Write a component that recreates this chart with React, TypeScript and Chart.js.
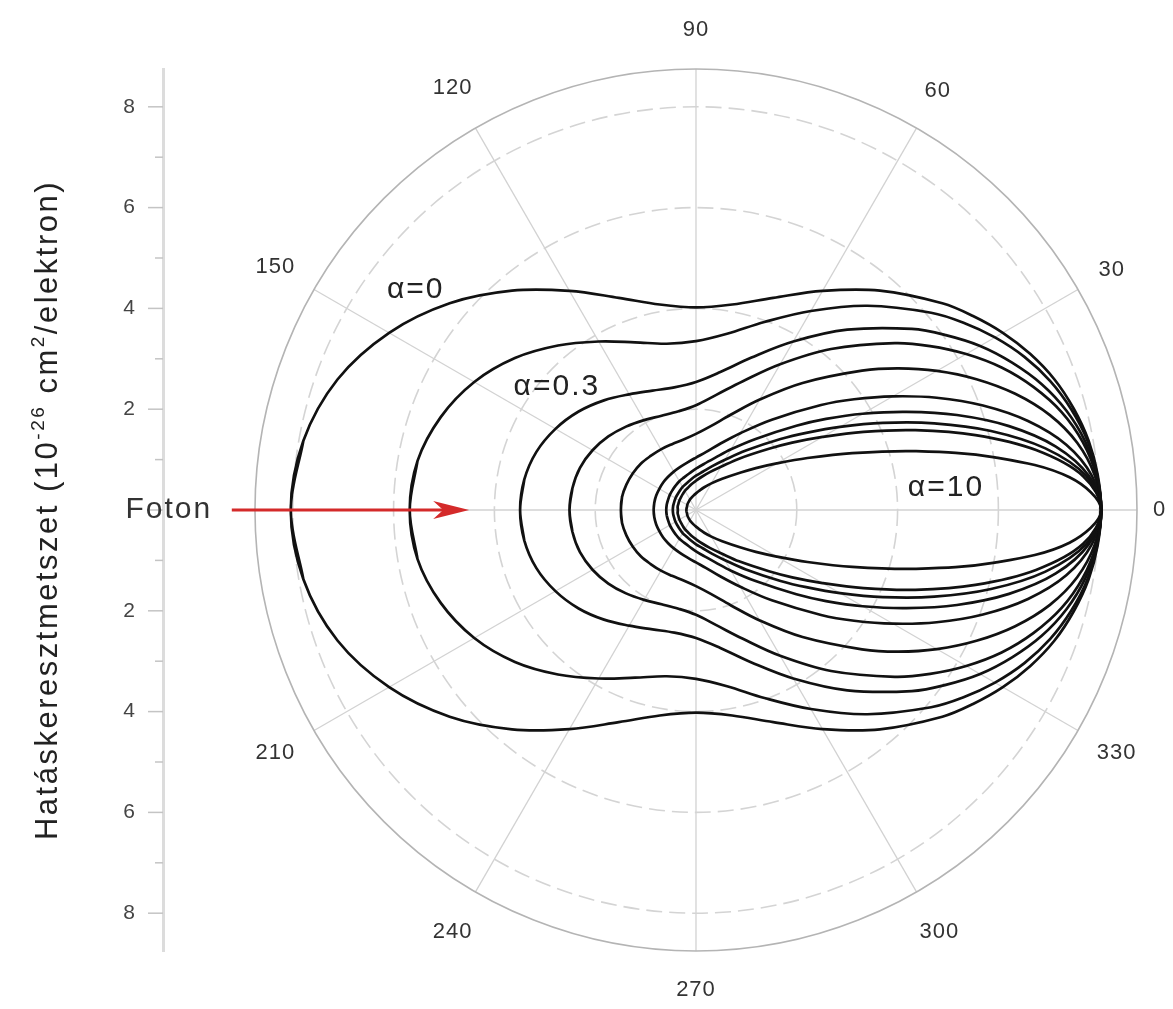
import React, { useEffect, useRef } from 'react';
import { Chart, registerables } from 'chart.js';

Chart.register(...registerables);

// Scattering angle (degrees) at which the cross-section radius is read (upper half; the plot is mirror-symmetric)
const ANGLES_DEG = [0, 5, 10, 15, 20, 25, 30, 35, 40, 50, 60, 70, 80, 90, 100, 110, 120, 130, 140, 150, 160, 170, 180];

// Curve labels (photon energy parameter alpha)
const ALPHA_LABELS = ['0', '0.1', '0.3', '0.5', '1', '2', '3', '4', '5', '10'];

// Differential cross-section (10^-26 cm^2 / elektron) read along each angle
const R_ALPHA_0 = [8.04, 8.00, 7.91, 7.76, 7.57, 7.32, 7.03, 6.71, 6.38, 5.68, 5.02, 4.48, 4.14, 4.02, 4.14, 4.48, 5.02, 5.68, 6.38, 7.03, 7.57, 7.91, 8.04];
const R_ALPHA_01 = [8.04, 7.99, 7.89, 7.71, 7.48, 7.19, 6.85, 6.48, 6.09, 5.29, 4.56, 3.97, 3.55, 3.35, 3.35, 3.54, 3.86, 4.26, 4.69, 5.08, 5.39, 5.61, 5.68];
const R_ALPHA_03 = [8.04, 7.98, 7.84, 7.61, 7.30, 6.92, 6.51, 6.05, 5.59, 4.67, 3.86, 3.22, 2.78, 2.54, 2.47, 2.52, 2.65, 2.84, 3.04, 3.22, 3.37, 3.46, 3.49];
const R_ALPHA_05 = [8.04, 7.97, 7.79, 7.51, 7.13, 6.69, 6.19, 5.67, 5.15, 4.17, 3.34, 2.72, 2.32, 2.08, 1.99, 1.99, 2.06, 2.16, 2.27, 2.37, 2.45, 2.49, 2.51];
const R_ALPHA_1 = [8.04, 7.94, 7.68, 7.27, 6.74, 6.14, 5.52, 4.90, 4.30, 3.29, 2.53, 2.01, 1.69, 1.51, 1.42, 1.39, 1.39, 1.40, 1.43, 1.45, 1.47, 1.49, 1.49];
const R_ALPHA_2 = [8.04, 7.88, 7.46, 6.82, 6.06, 5.27, 4.51, 3.83, 3.24, 2.34, 1.76, 1.40, 1.17, 1.04, 0.96, 0.91, 0.88, 0.86, 0.85, 0.84, 0.84, 0.84, 0.84];
const R_ALPHA_3 = [8.04, 7.82, 7.25, 6.43, 5.51, 4.61, 3.82, 3.15, 2.60, 1.84, 1.39, 1.10, 0.93, 0.82, 0.74, 0.69, 0.66, 0.63, 0.61, 0.60, 0.59, 0.59, 0.59];
const R_ALPHA_4 = [8.04, 7.77, 7.04, 6.06, 5.03, 4.09, 3.30, 2.67, 2.19, 1.54, 1.15, 0.92, 0.77, 0.68, 0.61, 0.56, 0.53, 0.50, 0.48, 0.47, 0.46, 0.46, 0.46];
const R_ALPHA_5 = [8.04, 7.71, 6.85, 5.74, 4.63, 3.67, 2.90, 2.33, 1.89, 1.33, 0.99, 0.80, 0.67, 0.58, 0.52, 0.47, 0.44, 0.41, 0.39, 0.38, 0.37, 0.37, 0.36];
const R_ALPHA_10 = [8.04, 7.44, 6.02, 4.51, 3.30, 2.44, 1.85, 1.45, 1.16, 0.81, 0.61, 0.48, 0.39, 0.33, 0.29, 0.26, 0.24, 0.22, 0.21, 0.20, 0.19, 0.19, 0.19];

const SERIES = [R_ALPHA_0, R_ALPHA_01, R_ALPHA_03, R_ALPHA_05, R_ALPHA_1, R_ALPHA_2, R_ALPHA_3, R_ALPHA_4, R_ALPHA_5, R_ALPHA_10];

// Axis / grid values
const Y_TICKS = [-8, -7, -6, -5, -4, -3, -2, -1, 0, 1, 2, 3, 4, 5, 6, 7, 8];
const RINGS = [2, 4, 6, 8];
const R_MAX = 8.75;
const SPOKES = [0, 30, 60, 90, 120, 150, 180, 210, 240, 270, 300, 330];
const SPOKE_LABELS = [0, 30, 60, 90, 120, 150, 210, 240, 270, 300, 330];

// Y-axis title pieces (normal / superscript)
const Y_TITLE_PARTS = [
  { t: 'Hatáskeresztmetszet (10', sup: false },
  { t: '-26', sup: true },
  { t: ' cm', sup: false },
  { t: '2', sup: true },
  { t: '/elektron)', sup: false },
];

// Annotations (data units)
const CURVE_NOTES = [
  { text: 'α=0', x: -5.56, y: 4.37 },
  { text: 'α=0.3', x: -2.76, y: 2.44 },
  { text: 'α=10', x: 4.96, y: 0.44 },
];
const PHOTON_TEXT = { text: 'Foton', x: -10.46, y: 0 };
const ARROW = { x1: -9.21, x2: -4.5, y: 0 };

const FONT = '"Liberation Sans", Arial, Helvetica, sans-serif';

function polar(r: number, deg: number) {
  const t = (deg * Math.PI) / 180;
  return { x: r * Math.cos(t), y: r * Math.sin(t) };
}

// Closed loop: 180 (upper) -> 0 -> 180 (lower), with one overlapping step at each end so the join is smooth
function toPoints(r: number[]) {
  const n = ANGLES_DEG.length;
  const pts: { x: number; y: number }[] = [];
  pts.push(polar(r[n - 2], -ANGLES_DEG[n - 2]));
  for (let i = n - 1; i >= 0; i--) pts.push(polar(r[i], ANGLES_DEG[i]));
  for (let i = 1; i < n; i++) pts.push(polar(r[i], -ANGLES_DEG[i]));
  pts.push(polar(r[n - 2], ANGLES_DEG[n - 2]));
  return pts;
}

const polarPlugin = {
  id: 'polarPlugin',
  beforeDatasetsDraw(chart: any) {
    const { ctx, scales, chartArea } = chart;
    const xs = scales.x;
    const ys = scales.y;
    const cx = xs.getPixelForValue(0);
    const cy = ys.getPixelForValue(0);
    const rp = (v: number) => xs.getPixelForValue(v) - cx;
    const R = rp(R_MAX);
    ctx.save();
    // spokes
    ctx.strokeStyle = '#d2d2d2';
    ctx.lineWidth = 1.3;
    SPOKES.forEach((a) => {
      const t = (a * Math.PI) / 180;
      ctx.beginPath();
      ctx.moveTo(cx, cy);
      ctx.lineTo(cx + R * Math.cos(t), cy - R * Math.sin(t));
      ctx.stroke();
    });
    // dashed rings
    ctx.setLineDash([16, 7]);
    ctx.strokeStyle = '#d4d4d4';
    ctx.lineWidth = 1.6;
    RINGS.forEach((r) => {
      ctx.beginPath();
      ctx.arc(cx, cy, rp(r), 0, Math.PI * 2);
      ctx.stroke();
    });
    ctx.setLineDash([]);
    // outer ring
    ctx.strokeStyle = '#b4b4b4';
    ctx.lineWidth = 1.6;
    ctx.beginPath();
    ctx.arc(cx, cy, R, 0, Math.PI * 2);
    ctx.stroke();
    // y-axis tick marks (major / minor)
    ctx.strokeStyle = '#c4c4c4';
    ctx.lineWidth = 1.5;
    const ax = chartArea.left;
    Y_TICKS.forEach((v) => {
      const py = ys.getPixelForValue(v);
      const len = v % 2 === 0 ? 15 : 8;
      ctx.beginPath();
      ctx.moveTo(ax - len, py);
      ctx.lineTo(ax, py);
      ctx.stroke();
    });
    ctx.restore();
  },
  afterDraw(chart: any) {
    const { ctx, scales } = chart;
    const xs = scales.x;
    const ys = scales.y;
    const cx = xs.getPixelForValue(0);
    const cy = ys.getPixelForValue(0);
    const R = xs.getPixelForValue(R_MAX) - cx;
    ctx.save();
    // angle labels
    ctx.font = `22px ${FONT}`;
    (ctx as any).letterSpacing = '1px';
    ctx.fillStyle = '#333';
    ctx.textAlign = 'center';
    ctx.textBaseline = 'middle';
    SPOKE_LABELS.forEach((a) => {
      const t = (a * Math.PI) / 180;
      const txt = String(a);
      const w = ctx.measureText(txt).width;
      const d = R + 16 + (w / 2) * Math.abs(Math.cos(t)) + 23 * Math.abs(Math.sin(t));
      ctx.fillText(txt, cx + d * Math.cos(t), cy - d * Math.sin(t));
    });
    // arrow
    const ax1 = xs.getPixelForValue(ARROW.x1);
    const ax2 = xs.getPixelForValue(ARROW.x2);
    const ay = ys.getPixelForValue(ARROW.y);
    ctx.strokeStyle = '#d42a2a';
    ctx.fillStyle = '#d42a2a';
    ctx.lineWidth = 3;
    ctx.beginPath();
    ctx.moveTo(ax1, ay);
    ctx.lineTo(ax2 - 20, ay);
    ctx.stroke();
    ctx.beginPath();
    ctx.moveTo(ax2, ay);
    ctx.lineTo(ax2 - 36, ay - 9);
    ctx.lineTo(ax2 - 26, ay);
    ctx.lineTo(ax2 - 36, ay + 9);
    ctx.closePath();
    ctx.fill();
    // Foton text
    ctx.fillStyle = '#333';
    ctx.font = `30px ${FONT}`;
    (ctx as any).letterSpacing = '2px';
    ctx.fillText(PHOTON_TEXT.text, xs.getPixelForValue(PHOTON_TEXT.x), ys.getPixelForValue(PHOTON_TEXT.y));
    // curve notes
    ctx.fillStyle = '#222';
    CURVE_NOTES.forEach((n) => {
      ctx.fillText(n.text, xs.getPixelForValue(n.x), ys.getPixelForValue(n.y));
    });
    // y-axis title (rotated, with superscripts)
    const mainFont = `31px ${FONT}`;
    const supFont = `19px ${FONT}`;
    (ctx as any).letterSpacing = '2.5px';
    let total = 0;
    const widths = Y_TITLE_PARTS.map((p) => {
      ctx.font = p.sup ? supFont : mainFont;
      const w = ctx.measureText(p.t).width;
      total += w;
      return w;
    });
    ctx.translate(46, cy);
    ctx.rotate(-Math.PI / 2);
    ctx.textAlign = 'left';
    ctx.textBaseline = 'alphabetic';
    ctx.fillStyle = '#222';
    let pos = -total / 2;
    Y_TITLE_PARTS.forEach((p, i) => {
      ctx.font = p.sup ? supFont : mainFont;
      ctx.fillText(p.t, pos, p.sup ? -2 : 11);
      pos += widths[i];
    });
    ctx.restore();
  },
};

export default function App() {
  const ref = useRef<HTMLCanvasElement | null>(null);
  useEffect(() => {
    if (!ref.current) return;
    const datasets = SERIES.map((r, i) => ({
      label: 'α=' + ALPHA_LABELS[i],
      data: toPoints(r),
      showLine: true,
      borderColor: '#111',
      borderWidth: 2.7,
      pointRadius: 0,
      tension: 0.35,
      fill: false,
    }));
    const chart = new Chart(ref.current, {
      type: 'scatter',
      data: { datasets },
      plugins: [polarPlugin],
      options: {
        animation: false,
        responsive: false,
        maintainAspectRatio: false,
        layout: { padding: { left: 0, top: 69, right: 36, bottom: 58 } },
        plugins: { legend: { display: false }, tooltip: { enabled: false } },
        scales: {
          x: { type: 'linear', min: -10.575, max: R_MAX, display: false },
          y: {
            type: 'linear',
            position: 'left',
            min: -R_MAX,
            max: R_MAX,
            afterBuildTicks: (axis: any) => {
              axis.ticks = Y_TICKS.map((v) => ({ value: v }));
            },
            afterFit: (axis: any) => {
              axis.width = 163;
            },
            ticks: {
              autoSkip: false,
              padding: 12,
              color: '#444',
              font: { size: 21, family: FONT },
              callback: (v: any) => (Number(v) % 2 === 0 && Number(v) !== 0 ? String(Math.abs(Number(v))) : ''),
            },
            grid: { drawOnChartArea: false, drawTicks: true, tickLength: 16, tickColor: 'rgba(0,0,0,0)' },
            border: { display: true, color: '#dcdcdc', width: 3 },
            title: { display: false },
          },
        },
      },
    });
    return () => chart.destroy();
  }, []);
  return (
    <div style={{ position: 'fixed', left: 0, top: 0, width: 1173, height: 1009, background: '#fff' }}>
      <canvas ref={ref} width={1173} height={1009} style={{ width: 1173, height: 1009, display: 'block' }} />
    </div>
  );
}
